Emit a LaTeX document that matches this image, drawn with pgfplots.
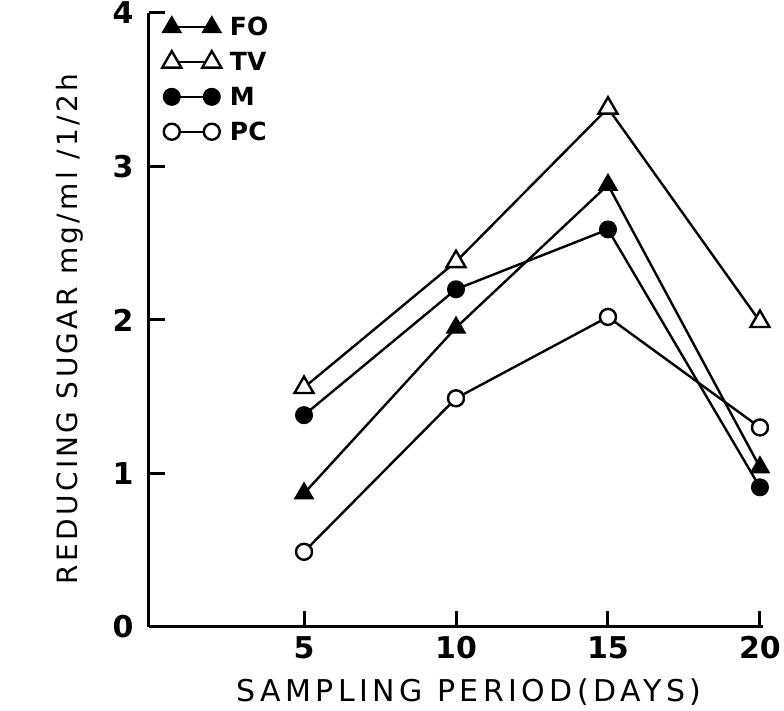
\documentclass[border=0pt]{standalone}
\usepackage{fontspec}
\setmainfont{DejaVu Sans}
\usepackage{pgfplots}
\pgfplotsset{compat=1.18}
\begin{document}
\begin{tikzpicture}
\begin{axis}[
  scale only axis, width=614pt, height=614pt,
  xmin=-0.1, xmax=20.1, ymin=0, ymax=4,
  axis x line*=bottom, axis y line*=left, axis line style={line width=3pt},
  xtick={5,10,15,20}, ytick={0,1,2,3,4},
  tick align=inside, major tick length=16pt,
  major tick style={line width=3pt, black},
  /pgf/number format/assume math mode=true,
  tick label style={font=\fontsize{30}{30}\selectfont\bfseries},
  xticklabel style={yshift=-6pt},
  yticklabel style={xshift=-12pt},
  xlabel={SAMPLING PERIOD(DAYS)},
  ylabel={REDUCING SUGAR mg/ml /1/2h},
  xlabel style={at={(rel axis cs:0.521,-0.122)}, anchor=base, font=\fontsize{30}{30}\selectfont\addfontfeatures{LetterSpace=15}},
  ylabel style={at={(rel axis cs:-0.117,0.485)}, anchor=base, font=\fontsize{28}{28}\selectfont\addfontfeatures{LetterSpace=12}},
  every axis plot/.append style={line width=2.4pt, black},
  legend image code/.code={\draw plot coordinates {(0pt,0pt) (40pt,0pt)}; \path (55pt,0pt);},
  legend style={at={(rel axis cs:0.018,1.0)}, anchor=north west, draw=none, fill=none,
    font=\fontsize{25}{25}\selectfont\bfseries, row sep=11pt, inner sep=2pt},
  legend cell align=left,
]
\addplot[mark=triangle*, mark size=11pt, mark options={fill=black, line width=1pt}] coordinates {(5,0.87) (10,1.95) (15,2.88) (20,1.04)};
\addlegendentry{FO}
\addplot[mark=triangle*, mark size=11pt, mark options={fill=white, line width=2.4pt}] coordinates {(5,1.56) (10,2.38) (15,3.38) (20,1.99)};
\addlegendentry{TV}
\addplot[mark=*, mark size=8.5pt, mark options={fill=black, line width=1pt}] coordinates {(5,1.38) (10,2.20) (15,2.59) (20,0.91)};
\addlegendentry{M}
\addplot[mark=*, mark size=8pt, mark options={fill=white, line width=2.4pt}] coordinates {(5,0.49) (10,1.49) (15,2.02) (20,1.30)};
\addlegendentry{PC}
\coordinate (ll) at (rel axis cs:0,0);
\coordinate (ur) at (rel axis cs:1,1);
\end{axis}
\pgfresetboundingbox
\path ([shift={(-149pt,-84pt)}]ll) rectangle ([shift={(21pt,13pt)}]ur);
\end{tikzpicture}
\end{document}
